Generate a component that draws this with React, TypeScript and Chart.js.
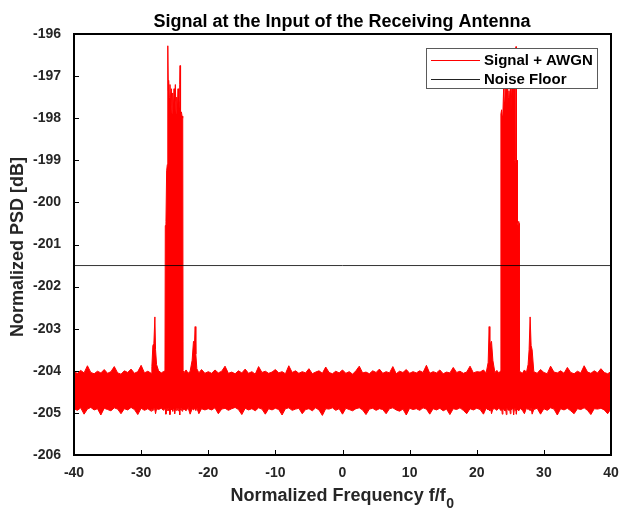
import React, { useEffect, useRef } from "react";
import { Chart, registerables } from "chart.js";

Chart.register(...registerables);

const chartTitle = "Signal at the Input of the Receiving Antenna";
const xTitleMain = "Normalized Frequency f/f";
const xTitleSub = "0";
const yTitle = "Normalized PSD [dB]";
const signalName = "Signal + AWGN";
const floorName = "Noise Floor";
const noiseFloor = -201.5;
const xRange = [-40, 40];
const yRange = [-206, -196];
const xStep = 10;
const yStep = 1;

// Normalized frequency samples (segments: noise, outer spur, lobe, inner spur, noise, ... mirrored)
const freq = [
  // noise A (24)
  -40, -39.5, -39, -38.5, -38, -37.5, -37, -36.5, -36, -35.5, -35, -34.5,
  -34, -33.5, -33, -32.5, -32, -31.5, -31, -30.5, -30, -29.5, -29, -28.5,
  // outer spur L (9)
  -28.4, -28.25, -28.1, -27.95, -27.85, -27.7, -27.4, -27.0, -26.7,
  // lobe L (33)
  -26.45, -26.4, -26.3, -26.2, -26.1, -26.05, -26.0, -25.95, -25.9, -25.8, -25.7,
  -25.6, -25.5, -25.4, -25.3, -25.2, -25.1, -25.0, -24.9, -24.8, -24.7, -24.6,
  -24.5, -24.4, -24.3, -24.25, -24.2, -24.15, -24.1, -24.0, -23.9, -23.8, -23.75,
  // inner spur L (13)
  -23.6, -23.3, -23.0, -22.7, -22.4, -22.2, -22.05, -21.95, -21.85, -21.7, -21.4, -21.0, -20.5,
  // centre noise (81)
  -20, -19.5, -19, -18.5, -18, -17.5, -17, -16.5, -16,
  -15.5, -15, -14.5, -14, -13.5, -13, -12.5, -12, -11.5,
  -11, -10.5, -10, -9.5, -9, -8.5, -8, -7.5, -7,
  -6.5, -6, -5.5, -5, -4.5, -4, -3.5, -3, -2.5,
  -2, -1.5, -1, -0.5, 0, 0.5, 1, 1.5, 2,
  2.5, 3, 3.5, 4, 4.5, 5, 5.5, 6, 6.5,
  7, 7.5, 8, 8.5, 9, 9.5, 10, 10.5, 11,
  11.5, 12, 12.5, 13, 13.5, 14, 14.5, 15, 15.5,
  16, 16.5, 17, 17.5, 18, 18.5, 19, 19.5, 20,
  // inner spur R (13)
  20.5, 21.0, 21.4, 21.7, 21.85, 21.95, 22.05, 22.2, 22.4, 22.7, 23.0, 23.3, 23.45,
  // lobe R (33)
  23.55, 23.6, 23.7, 23.8, 23.9, 24.0, 24.1, 24.2, 24.3, 24.4, 24.5,
  24.6, 24.7, 24.8, 24.9, 25.0, 25.1, 25.2, 25.3, 25.4, 25.5, 25.6,
  25.65, 25.75, 25.8, 25.85, 25.9, 26.0, 26.05, 26.15, 26.25, 26.3, 26.35,
  // outer spur R (9)
  26.5, 26.8, 27.1, 27.4, 27.65, 27.8, 27.95, 28.1, 28.25,
  // noise D (24)
  28.5, 29, 29.5, 30, 30.5, 31, 31.5, 32, 32.5, 33, 33.5, 34,
  34.5, 35, 35.5, 36, 36.5, 37, 37.5, 38, 38.5, 39, 39.5, 40,
];

// Upper edge of the Signal + AWGN trace [dB]
const upperEnv = [
  // noise A
  -204.03, -204.06, -203.99, -204.05, -203.88, -204.04, -204.07, -204.01, -204.05, -203.97, -204.06, -204.02,
  -203.90, -204.05, -204.08, -204.00, -204.04, -203.96, -204.06, -204.02, -203.87, -204.05, -204.01, -204.06,
  // outer spur L
  -203.9, -203.4, -203.35, -202.72, -203.5, -203.85, -204.0, -204.05, -204.02,
  // lobe L
  -204.0, -200.55, -200.45, -199.25, -199.1, -197.7, -196.28, -197.35, -197.1, -197.5, -197.2,
  -197.7, -197.3, -197.9, -197.4, -197.8, -197.3, -197.6, -197.2, -197.9, -197.5, -197.8,
  -197.3, -197.9, -197.6, -197.2, -196.75, -197.6, -197.9, -197.85, -197.95, -198.0, -204.0,
  // inner spur L
  -204.04, -203.98, -204.06, -204.01, -203.75, -203.3, -203.35, -202.95, -203.6, -203.95, -204.05, -203.97, -204.06,
  // centre noise
  -204.02, -204.06, -203.98, -204.05, -204.01, -203.89, -204.06, -204.03, -204.07,
  -204.00, -204.05, -203.96, -204.06, -204.02, -204.08, -203.90, -204.04, -204.01,
  -204.06, -204.03, -203.97, -204.05, -204.02, -204.07, -203.88, -204.04, -204.00,
  -204.06, -204.02, -204.05, -203.95, -204.07, -204.03, -204.00, -204.06, -203.91,
  -204.04, -204.07, -204.01, -204.05, -203.98, -204.06, -204.02, -204.08, -204.00,
  -203.89, -204.05, -204.03, -204.07, -204.00, -204.04, -203.96, -204.06, -204.02,
  -204.05, -203.90, -204.07, -204.01, -204.04, -203.97, -204.06, -204.02, -204.05,
  -204.00, -204.04, -203.87, -204.06, -204.02, -204.05, -203.98, -204.07, -204.03,
  -204.05, -203.92, -204.04, -204.01, -204.06, -204.03, -203.89, -204.05, -204.02,
  // inner spur R
  -204.03, -203.98, -204.05, -203.8, -202.95, -203.5, -203.35, -203.3, -203.75, -204.04, -203.99, -204.06, -204.02,
  // lobe R
  -204.0, -197.9, -197.8, -197.95, -197.85, -197.3, -197.6, -197.2, -197.5, -197.3, -197.7,
  -197.25, -197.5, -197.35, -197.6, -197.3, -197.8, -197.4, -197.2, -196.9, -197.5, -197.3,
  -199.0, -199.05, -198.9, -196.3, -199.1, -199.0, -200.5, -200.55, -200.45, -200.5, -204.0,
  // outer spur R
  -204.03, -204.06, -203.98, -204.04, -203.85, -203.5, -202.72, -203.4, -203.5,
  // noise D
  -204.02, -204.06, -203.97, -204.04, -204.07, -203.89, -204.03, -204.05, -204.00, -204.06, -203.92, -204.04,
  -204.07, -204.01, -204.05, -203.88, -204.03, -204.06, -204.00, -204.05, -203.95, -204.04, -204.07, -204.02,
];

// Lower edge of the Signal + AWGN trace [dB]
const lowerEnv = [
  // noise A
  -204.90, -204.94, -204.88, -205.03, -204.91, -204.87, -204.93, -204.90, -205.05, -204.89, -204.92, -204.95,
  -204.88, -204.91, -205.02, -204.90, -204.93, -204.87, -204.92, -205.04, -204.89, -204.94, -204.90, -204.96,
  // outer spur L
  -204.91, -204.95, -204.88, -204.93, -205.02, -204.90, -204.92, -204.89, -204.94,
  // lobe L
  -204.90, -204.93, -205.03, -204.89, -204.92, -204.95, -204.88, -204.91, -204.94, -204.90, -205.04,
  -204.89, -204.93, -204.90, -204.96, -204.88, -204.92, -205.02, -204.90, -204.94, -204.89, -204.91,
  -204.95, -204.88, -204.92, -205.05, -204.90, -204.93, -204.89, -204.91, -204.96, -204.90, -204.92,
  // inner spur L
  -204.91, -204.95, -204.88, -205.03, -204.90, -204.93, -204.89, -204.92, -204.94, -204.88, -205.02, -204.90, -204.93,
  // centre noise
  -204.90, -204.93, -204.88, -205.02, -204.91, -204.89, -204.94, -204.90, -204.87,
  -204.92, -205.04, -204.89, -204.93, -204.90, -204.95, -204.88, -204.91, -205.03,
  -204.90, -204.93, -204.89, -204.92, -205.05, -204.90, -204.88, -204.94, -204.91,
  -204.89, -205.02, -204.92, -204.90, -204.95, -204.88, -204.93, -205.06, -204.90,
  -204.91, -204.88, -204.94, -204.90, -205.03, -204.89, -204.92, -204.95, -204.90,
  -204.88, -204.93, -205.04, -204.91, -204.89, -204.94, -204.90, -204.92, -205.02,
  -204.90, -204.88, -204.93, -204.96, -204.91, -205.05, -204.89, -204.92, -204.90,
  -204.94, -204.88, -204.91, -205.03, -204.90, -204.93, -204.89, -204.95, -204.91,
  -205.04, -204.90, -204.92, -204.88, -204.94, -205.02, -204.90, -204.93, -204.89,
  // inner spur R
  -204.92, -205.03, -204.89, -204.93, -204.90, -204.95, -204.88, -205.02, -204.91, -204.90, -204.94, -204.88, -204.92,
  // lobe R
  -204.91, -204.94, -204.88, -205.03, -204.90, -204.92, -204.89, -204.95, -204.90, -205.04, -204.88,
  -204.92, -204.90, -204.94, -204.89, -205.02, -204.91, -204.93, -204.88, -204.90, -205.05, -204.92,
  -204.89, -204.94, -204.90, -204.91, -205.03, -204.88, -204.93, -204.90, -204.95, -204.89, -204.92,
  // outer spur R
  -204.90, -204.94, -205.02, -204.89, -204.92, -204.90, -204.95, -204.88, -205.03,
  // noise D
  -204.92, -204.89, -205.03, -204.90, -204.94, -204.88, -204.91, -205.05, -204.90, -204.93, -204.89, -204.95,
  -205.02, -204.90, -204.92, -204.88, -204.94, -205.04, -204.90, -204.91, -204.89, -204.93, -205.02, -204.90,
];

const FONT = "'Liberation Sans', Arial, Helvetica, sans-serif";
const RED = "#ff0000";

const decorPlugin = {
  id: "matlabDecor",
  afterDraw(chart: any) {
    const ctx = chart.ctx as CanvasRenderingContext2D;
    const { left, right, top, bottom } = chart.chartArea;
    const xs = chart.scales.x;
    const ys = chart.scales.y;
    ctx.save();
    // inward tick marks
    ctx.strokeStyle = "#000";
    ctx.lineWidth = 1;
    ctx.beginPath();
    for (let v = xRange[0] + xStep; v < xRange[1]; v += xStep) {
      const px = Math.round(xs.getPixelForValue(v)) + 0.5;
      ctx.moveTo(px, bottom);
      ctx.lineTo(px, bottom - 5);
    }
    for (let v = yRange[0] + yStep; v < yRange[1]; v += yStep) {
      const py = Math.round(ys.getPixelForValue(v)) + 0.5;
      ctx.moveTo(left, py);
      ctx.lineTo(left + 5, py);
    }
    ctx.stroke();
    // axes box
    ctx.lineWidth = 2;
    ctx.strokeRect(left, top, right - left, bottom - top);

    // title
    ctx.fillStyle = "#000";
    ctx.font = `bold 18px ${FONT}`;
    ctx.textAlign = "center";
    ctx.textBaseline = "alphabetic";
    ctx.fillText(chartTitle, 342, 27);

    // x title with subscript
    ctx.fillStyle = "#262626";
    ctx.font = `bold 18px ${FONT}`;
    const wMain = ctx.measureText(xTitleMain).width;
    ctx.font = `bold 14px ${FONT}`;
    const wSub = ctx.measureText(xTitleSub).width;
    const x0 = 342 - (wMain + wSub) / 2;
    ctx.textAlign = "left";
    ctx.font = `bold 18px ${FONT}`;
    ctx.fillText(xTitleMain, x0, 501);
    ctx.font = `bold 14px ${FONT}`;
    ctx.fillText(xTitleSub, x0 + wMain + 0.5, 508);

    // y title
    ctx.save();
    ctx.translate(18, 247);
    ctx.rotate(-Math.PI / 2);
    ctx.font = `bold 18px ${FONT}`;
    ctx.textAlign = "center";
    ctx.textBaseline = "middle";
    ctx.fillText(yTitle, 0, 0);
    ctx.restore();

    // legend box
    const lx = 426, ly = 48, lw = 171, lh = 40;
    ctx.fillStyle = "#fff";
    ctx.fillRect(lx, ly, lw, lh);
    ctx.strokeStyle = "#5a5a5a";
    ctx.lineWidth = 1;
    ctx.strokeRect(lx + 0.5, ly + 0.5, lw, lh);
    const rows = [
      { label: signalName, color: RED, y: 60 },
      { label: floorName, color: "#222", y: 79 },
    ];
    ctx.font = `bold 15px ${FONT}`;
    ctx.textAlign = "left";
    ctx.textBaseline = "middle";
    rows.forEach((r) => {
      ctx.strokeStyle = r.color;
      ctx.lineWidth = 1;
      ctx.beginPath();
      ctx.moveTo(431, r.y + 0.5);
      ctx.lineTo(480, r.y + 0.5);
      ctx.stroke();
      ctx.fillStyle = "#000";
      ctx.fillText(r.label, 484, r.y + 1);
    });
    ctx.restore();
  },
};

export default function App() {
  const ref = useRef<HTMLCanvasElement>(null);
  useEffect(() => {
    const canvas = ref.current;
    if (!canvas) return;
    const lowerPts = freq.map((f, i) => ({ x: f, y: lowerEnv[i] }));
    const upperPts = freq.map((f, i) => ({ x: f, y: upperEnv[i] }));
    const chart = new Chart(canvas, {
      type: "line",
      data: {
        datasets: [
          {
            label: floorName,
            data: [
              { x: xRange[0], y: noiseFloor },
              { x: xRange[1], y: noiseFloor },
            ],
            borderColor: "rgba(0,0,0,0.8)",
            borderWidth: 1,
            pointRadius: 0,
            fill: false,
            order: 0,
          },
          {
            label: "lower",
            data: lowerPts,
            borderColor: RED,
            borderWidth: 1,
            pointRadius: 0,
            fill: false,
            order: 2,
          },
          {
            label: signalName,
            data: upperPts,
            borderColor: RED,
            backgroundColor: RED,
            borderWidth: 1,
            pointRadius: 0,
            fill: 1,
            order: 1,
          },
        ],
      },
      options: {
        animation: false,
        responsive: false,
        events: [],
        layout: { padding: { top: 34, right: 9, left: 0, bottom: 0 } },
        plugins: {
          legend: { display: false },
          tooltip: { enabled: false },
          title: { display: false },
        },
        elements: { line: { tension: 0 } },
        scales: {
          x: {
            type: "linear",
            min: xRange[0],
            max: xRange[1],
            grid: { display: false, drawTicks: false },
            border: { display: false },
            ticks: {
              stepSize: xStep,
              padding: 10,
              color: "#262626",
              font: { family: FONT, size: 14, weight: "bold" },
              maxRotation: 0,
            },
            afterFit: (s: any) => {
              s.height = 55;
              s.paddingLeft = 0;
              s.paddingRight = 0;
            },
          },
          y: {
            type: "linear",
            min: yRange[0],
            max: yRange[1],
            grid: { display: false, drawTicks: false },
            border: { display: false },
            ticks: {
              stepSize: yStep,
              padding: 13,
              color: "#262626",
              font: { family: FONT, size: 14, weight: "bold" },
            },
            afterFit: (s: any) => {
              s.width = 74;
              s.paddingTop = 0;
              s.paddingBottom = 0;
            },
          },
        },
      },
      plugins: [decorPlugin],
    } as any);
    return () => chart.destroy();
  }, []);
  return (
    <div style={{ position: "absolute", left: 0, top: 0, width: 620, height: 510, background: "#fff" }}>
      <canvas ref={ref} width={620} height={510} style={{ display: "block", width: 620, height: 510 }} />
    </div>
  );
}
